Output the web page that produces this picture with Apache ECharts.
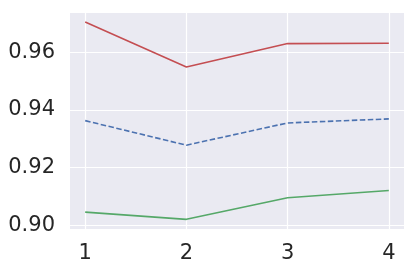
<!DOCTYPE html>
<html><head><meta charset="utf-8">
<script src="https://cdn.jsdelivr.net/npm/echarts@6/dist/echarts.min.js"></script>
<style>html,body{margin:0;padding:0;background:#fff}#c{width:417px;height:270px}</style>
</head><body><div id="c"></div>
<script>
const xValues = [1, 2, 3, 4];
const redSeries = [0.9705, 0.9549, 0.9630, 0.9631];
const blueSeries = [0.9363, 0.9278, 0.9355, 0.9369];
const greenSeries = [0.9046, 0.9021, 0.9096, 0.9121];
const xTicks = [1, 2, 3, 4];
const yTicks = [0.90, 0.92, 0.94, 0.96];

const pairs = arr => xValues.map((x, i) => [x, arr[i]]);
const chart = echarts.init(document.getElementById('c'), null, {renderer: 'canvas'});
const labelStyle = {color: '#262626', fontSize: 21, fontFamily: 'DejaVu Sans'};
chart.setOption({
  animation: false,
  backgroundColor: '#ffffff',
  grid: {left: 70, top: 13, right: 13, bottom: 41, show: true, backgroundColor: '#EAEAF2', borderWidth: 0},
  xAxis: {
    type: 'value', min: 0.85, max: 4.15,
    axisLine: {show: false},
    axisTick: {show: false, customValues: xTicks},
    axisLabel: Object.assign({customValues: xTicks, margin: 14, formatter: v => String(Math.round(v))}, labelStyle),
    splitLine: {show: true, lineStyle: {color: '#ffffff', width: 1.2}}
  },
  yAxis: {
    type: 'value', min: 0.89875, max: 0.9736,
    axisLine: {show: false},
    axisTick: {show: false, customValues: yTicks},
    axisLabel: Object.assign({customValues: yTicks, margin: 15, formatter: v => v.toFixed(2)}, labelStyle),
    splitLine: {show: true, lineStyle: {color: '#ffffff', width: 1.2}}
  },
  series: [
    {type: 'line', data: pairs(redSeries), symbol: 'none', lineStyle: {color: '#C44E52', width: 1.6}},
    {type: 'line', data: pairs(blueSeries), symbol: 'none', lineStyle: {color: '#4C72B0', width: 1.6, type: [5.5, 2.5]}},
    {type: 'line', data: pairs(greenSeries), symbol: 'none', lineStyle: {color: '#55A868', width: 1.6}}
  ]
});
</script></body></html>
